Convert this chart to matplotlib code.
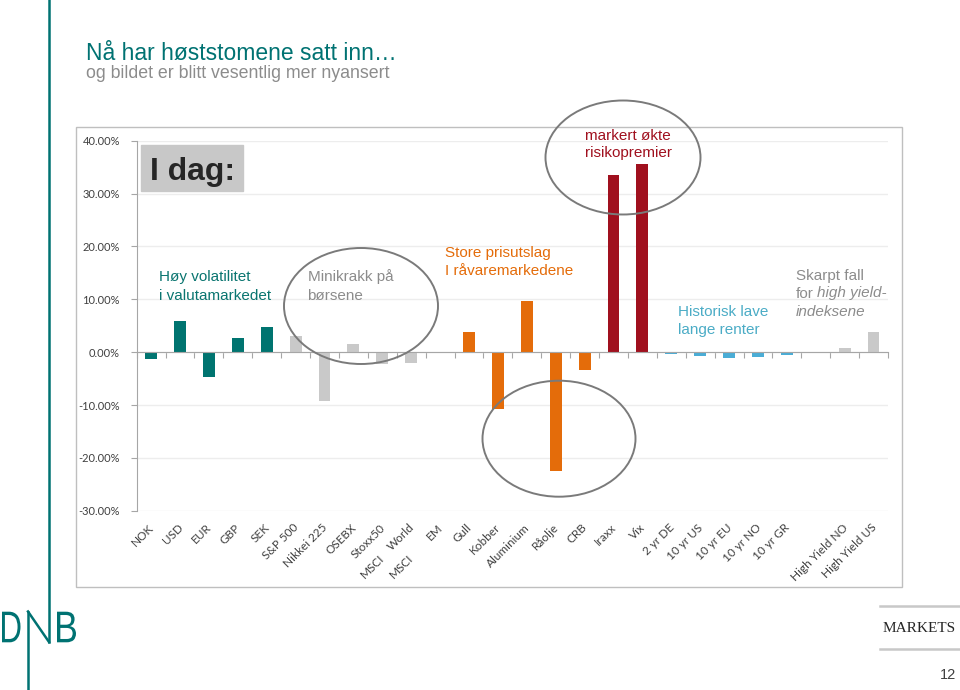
import numpy as np
import matplotlib
matplotlib.use('Agg')
import matplotlib.pyplot as plt
from matplotlib.patches import Ellipse, Rectangle, PathPatch
from matplotlib.lines import Line2D
from matplotlib.textpath import TextPath
from matplotlib.font_manager import FontProperties
from matplotlib.transforms import Affine2D

# data (change in %)
categories = ['NOK', 'USD', 'EUR', 'GBP', 'SEK', 'S&P 500', 'Nikkei 225', 'OSEBX', 'Stoxx50',
              'MSCI\nWorld', 'MSCI\nEM', 'Gull', 'Kobber', 'Aluminium', 'Råolje', 'CRB', 'Iraxx', 'Vix',
              '2 yr DE', '10 yr US', '10 yr EU', '10 yr NO', '10 yr GR', '', 'High Yield NO', 'High Yield US']
changes = [-1.3, 5.9, -4.7, 2.7, 4.7, 3.0, -9.2, 1.6, -2.2, -2.0, 0.0, 3.9, -10.8, 9.6, -22.4, -3.3,
           33.5, 35.6, -0.25, -0.75, -1.15, -0.95, -0.55, 0.0, 0.7, 3.9]
groups = ['valuta'] * 5 + ['aksjer'] * 6 + ['raavarer'] * 5 + ['risiko'] * 2 + ['renter'] * 5 + ['tom'] + ['hy'] * 2
yticks = [-30, -20, -10, 0, 10, 20, 30, 40]

title = 'Nå har høststomene satt inn…'
subtitle = 'og bildet er blitt vesentlig mer nyansert'

bar_colors = {'valuta': '#007470', 'aksjer': '#C9C9C9', 'raavarer': '#E46C0A', 'risiko': '#A0101E',
              'renter': '#4AADD6', 'tom': '#C9C9C9', 'hy': '#C9C9C9'}
TEAL = '#007272'
GREY_TXT = '#8C8C8C'
SANS = 'Liberation Sans'
CAL = 'Lato'

W, H = 960, 690


def fx(x):
    return x / W


def fy(y):
    return 1 - y / H


fig = plt.figure(figsize=(9.6, 6.9), dpi=100)
fig.patch.set_facecolor('white')

# plot area (pixels of the slide)
left, right, top, bottom = 136.7, 888.0, 140.7, 510.8
ax = fig.add_axes([fx(left), fy(bottom), (right - left) / W, (bottom - top) / H])

x = np.arange(len(categories))
ax.bar(x, changes, width=0.41, color=[bar_colors[g] for g in groups], zorder=3)
ax.set_xlim(-0.5, len(categories) - 0.5)
ax.set_ylim(yticks[0], yticks[-1])
ax.set_yticks(yticks)
ax.set_yticklabels([f'{v:.2f}%' for v in yticks], fontfamily=CAL, fontsize=8, color='#404040')
ax.yaxis.grid(True, color='#EDEDED', lw=1)
ax.set_axisbelow(True)
for s in ['top', 'right']:
    ax.spines[s].set_visible(False)
ax.spines['left'].set_color('#A6A6A6')
ax.spines['bottom'].set_color('#A6A6A6')
ax.spines['bottom'].set_position(('data', 0))
ax.spines['bottom'].set_zorder(4)
ax.set_xticks(np.arange(-0.5, len(categories), 1))
ax.tick_params(axis='x', length=4, color='#A6A6A6', direction='out', labelbottom=False)
ax.tick_params(axis='y', length=4, color='#A6A6A6', pad=8)

for i, lab in enumerate(categories):
    parts = lab.split('\n')
    kw = dict(xycoords=('data', 'axes fraction'), textcoords='offset pixels', rotation=45,
              ha='right', va='center', rotation_mode='anchor', fontsize=8.5, family=CAL, color='#404040')
    ax.annotate(parts[-1], xy=(i, 0), xytext=(1, -15), **kw)
    if len(parts) > 1:
        ax.annotate(parts[0], xy=(i, 0), xytext=(1 - 30, -15 - 31), **kw)

# chart frame
fig.add_artist(Rectangle((fx(76), fy(587)), (902 - 76) / W, (587 - 127) / H, transform=fig.transFigure,
                         fill=False, ec='#BFBFBF', lw=1))

# titles
fig.text(fx(86), fy(60), title, fontsize=16.5, color=TEAL, family=SANS, va='baseline')
fig.text(fx(86), fy(78), subtitle, fontsize=12.8, color=GREY_TXT, family=SANS, va='baseline')


def lines_at(xp, y0, lines, step=18.5, **kw):
    out = []
    for k, s in enumerate(lines):
        out.append(fig.text(fx(xp), fy(y0 + k * step), s, va='baseline', ha='left', family=SANS,
                            fontsize=11, **kw))
    return out


# "I dag:" box
fig.add_artist(Rectangle((fx(141), fy(190.5)), (242.5 - 141) / W, (190.5 - 145) / H,
                         transform=fig.transFigure, color='#C8C8C8', zorder=5))
fig.text(fx(150), fy(180), 'I dag:', fontsize=23, fontweight='bold', family=SANS, color='#262626',
         va='baseline', zorder=6)

lines_at(159, 281, ['Høy volatilitet', 'i valutamarkedet'], color='#0A7570')
lines_at(307.5, 281, ['Minikrakk på', 'børsene'], color=GREY_TXT)
lines_at(445, 257, ['Store prisutslag', 'I råvaremarkedene'], color='#E46C0A')
lines_at(585, 140.5, ['markert økte', 'risikopremier'], step=17, color='#A0101E')
lines_at(678.5, 316, ['Historisk lave', 'lange renter'], step=17.5, color='#4BACC6')
t1, t2, t3 = lines_at(796, 279.5, ['Skarpt fall', 'for', 'indeksene'], step=18, color=GREY_TXT)
t3.set_style('italic')
# italic part after "for", on the same baseline
fig.canvas.draw()
bb = t2.get_window_extent()
fig.text((bb.x1 + 3.5) / W, fy(279.5 + 18), 'high yield-', va='baseline', ha='left', family=SANS,
         fontsize=11, style='italic', color=GREY_TXT)

# ellipses
for cx, cy, w, h in [(361, 306, 154, 116), (623, 157.5, 155, 114), (559, 438.7, 153, 116)]:
    fig.add_artist(Ellipse((fx(cx), fy(cy)), w / W, h / H, transform=fig.transFigure,
                           fill=False, ec='#7A7A7A', lw=1.4, zorder=7))

# DNB logo
fig.add_artist(Line2D([fx(49), fx(49)], [fy(0), fy(642)], color=TEAL, lw=1.8))
fig.add_artist(Line2D([fx(28), fx(49)], [fy(611.5), fy(642)], color=TEAL, lw=1.8))
fig.add_artist(Line2D([fx(28), fx(28)], [fy(611.5), fy(690)], color=TEAL, lw=1.8))
fp = FontProperties(family=SANS)
for ch, x0, x1 in [('D', 2, 20.5), ('B', 57, 76)]:
    tp = TextPath((0, 0), ch, size=10, prop=fp)
    ext = tp.get_extents()
    tr = Affine2D().translate(-ext.x0, -ext.y0).scale((x1 - x0) / ext.width, (642.3 - 611.7) / ext.height)
    tr = tr.translate(x0, H - 642.3).scale(1 / W, 1 / H)
    fig.add_artist(PathPatch(tr.transform_path(tp), transform=fig.transFigure, color=TEAL, lw=0))

# MARKETS + page number
fig.add_artist(Line2D([fx(880), fx(960)], [fy(606), fy(606)], color='#C8C8C8', lw=1.8))
fig.add_artist(Line2D([fx(880), fx(960)], [fy(648.5), fy(648.5)], color='#C8C8C8', lw=1.8))
fig.text(fx(919), fy(632), 'MARKETS', ha='center', va='baseline', family='Liberation Serif',
         fontsize=11, color='#262626')
fig.text(fx(956), fy(679), '12', ha='right', va='baseline', family=SANS, fontsize=10.5, color='#404040')

fig.savefig('out.png', dpi=100)
